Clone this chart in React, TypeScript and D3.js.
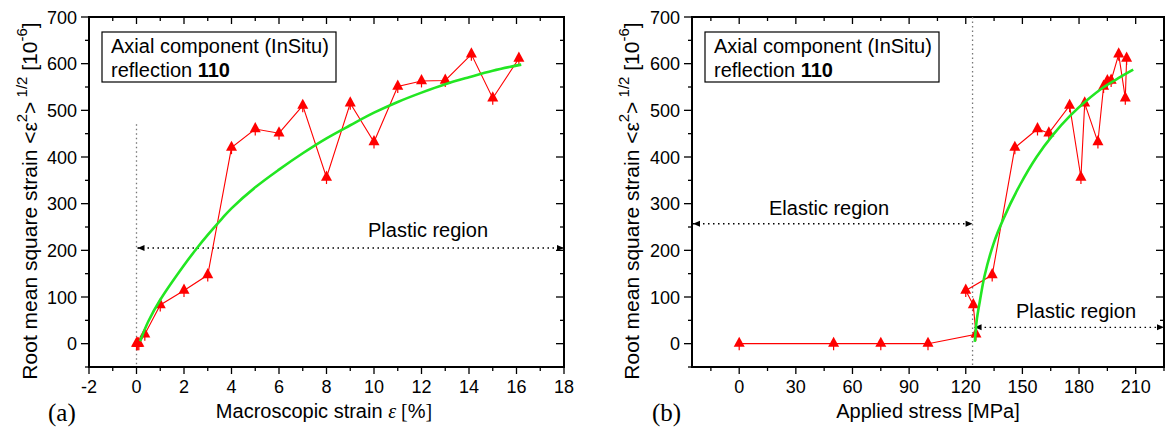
import React from "react";
import * as d3 from "d3";

// Measured series: macroscopic strain [%], applied stress [MPa], rms strain [1e-6]
const strainPct = [0, 0.03, 0.06, 0.1, 0.35, 1, 2, 3, 4, 5, 6, 7, 8, 9, 10, 11, 12, 13, 14.1, 15, 16.1];
const stressMPa = [0, 50, 75, 100, 125.4, 124, 120, 134, 146, 158, 164, 175, 181, 183, 190, 193, 195, 197, 201, 204.5, 205.2];
const rmsStrain = [0, 0, 0, 0, 20, 83, 114, 147, 420, 460, 451, 510, 356, 515, 432, 551, 563, 564, 620, 526, 611];

// Fitted curves
const fitStrainX = [0.15, 0.5, 1, 2, 2.55, 3, 3.6, 4, 5, 6, 7, 8, 9, 10, 11, 12, 13, 14, 15, 16.2];
const fitStrainY = [5, 48, 94, 168, 205, 233, 268, 290, 335, 373, 408, 440, 468, 495, 518, 538, 556, 571, 585, 598];
const fitStressX = [124.8, 125.8, 127.5, 130, 134.7, 140, 148.7, 157.5, 166.3, 175.2, 184, 192.8, 201.7, 208.7];
const fitStressY = [4, 50, 92, 146, 214, 268, 340, 400, 448, 488, 521, 549, 571, 587];

// Axis ticks
const strainTicks = [-2, 0, 2, 4, 6, 8, 10, 12, 14, 16, 18];
const strainMinor = d3.range(-2, 18.01, 1);
const stressTicks = [0, 30, 60, 90, 120, 150, 180, 210];
const stressMinor = d3.range(-15, 225.01, 15);
const rmsTicks = [0, 100, 200, 300, 400, 500, 600, 700];
const rmsMinor = d3.range(-50, 700.01, 50);

// Region markers
const plasticLevelA = 205;
const plasticStartStrain = 0;
const plasticGuideTopA = 470;
const yieldStress = 123.6;
const elasticLevelB = 257;
const plasticLevelB = 35;

const TOP = 17;
const BOTTOM = 367;
const SANS = "'Liberation Sans', Arial, sans-serif";
const SERIF = "'Liberation Serif', 'Times New Roman', serif";

type Arrow = { x1: number; x2: number; y: number; leftHead: boolean; rightHead: boolean };

function ArrowHead({ x, y, dir }: { x: number; y: number; dir: 1 | -1 }) {
  const len = 7;
  const half = 3;
  return (
    <path
      d={`M${x},${y} L${x - dir * len},${y - half} L${x - dir * len},${y + half} Z`}
      fill="#000"
    />
  );
}

function Triangle({ x, y }: { x: number; y: number }) {
  return (
    <g>
      <line x1={x} x2={x} y1={y - 2} y2={y + 6.5} stroke="#ff0000" strokeWidth={1.2} />
      <path d={`M${x},${y - 7} L${x + 5.5},${y + 3.2} L${x - 5.5},${y + 3.2} Z`} fill="#ff0000" />
    </g>
  );
}

function Panel(props: {
  left: number;
  right: number;
  xDomain: [number, number];
  xTicks: number[];
  xMinor: number[];
  xs: number[];
  fitX: number[];
  fitY: number[];
  xTitle: React.ReactNode;
  letter: string;
  letterX: number;
  titleX: number;
  yTitleX: number;
  children?: (x: d3.ScaleLinear<number, number>, y: d3.ScaleLinear<number, number>) => React.ReactNode;
}) {
  const { left, right, xDomain, xTicks, xMinor, xs, fitX, fitY } = props;
  const x = d3.scaleLinear().domain(xDomain).range([left, right]);
  const y = d3.scaleLinear().domain([-50, 700]).range([BOTTOM, TOP]);

  const pts: [number, number][] = xs.map((v, i) => [x(v), y(rmsStrain[i])]);
  const dataLine = d3.line()(pts) || "";
  const fitPts: [number, number][] = fitX.map((v, i) => [x(v), y(fitY[i])]);
  const fitLine = d3.line().curve(d3.curveCatmullRom.alpha(0.5))(fitPts) || "";

  const majorSet = new Set(xTicks);
  const yMajorSet = new Set(rmsTicks);

  return (
    <g>
      {/* bottom ticks (outward) and top mirror ticks (inward) */}
      {xMinor.map((t) => {
        const len = majorSet.has(t) ? 7 : 4;
        return (
          <g key={"xt" + t}>
            <line x1={x(t)} x2={x(t)} y1={BOTTOM} y2={BOTTOM + len} stroke="#000" strokeWidth={1.3} />
            <line x1={x(t)} x2={x(t)} y1={TOP} y2={TOP + len} stroke="#000" strokeWidth={1.3} />
          </g>
        );
      })}
      {rmsMinor.map((t) => {
        const len = yMajorSet.has(t) ? 8 : 4;
        return (
          <g key={"yt" + t}>
            <line x1={left - len} x2={left} y1={y(t)} y2={y(t)} stroke="#000" strokeWidth={1.3} />
            <line x1={right - len} x2={right} y1={y(t)} y2={y(t)} stroke="#000" strokeWidth={1.3} />
          </g>
        );
      })}
      <rect x={left} y={TOP} width={right - left} height={BOTTOM - TOP} fill="none" stroke="#000" strokeWidth={2} />

      {/* tick labels */}
      {xTicks.map((t) => (
        <text key={"xl" + t} x={x(t)} y={BOTTOM + 26} textAnchor="middle" fontFamily={SANS} fontSize={18}>
          {t}
        </text>
      ))}
      {rmsTicks.map((t) => (
        <text key={"yl" + t} x={left - 12} y={y(t) + 6.5} textAnchor="end" fontFamily={SANS} fontSize={18}>
          {t}
        </text>
      ))}

      {/* axis titles */}
      <text x={props.titleX} y={418} textAnchor="middle" fontFamily={SANS} fontSize={20}>
        {props.xTitle}
      </text>
      <text
        transform={`translate(${props.yTitleX},${201}) rotate(-90)`}
        textAnchor="middle"
        fontFamily={SANS}
        fontSize={21}
      >
        Root mean square strain &lt;ε
        <tspan dy={-10} fontSize={15}>2</tspan>
        <tspan dy={10}>&gt;</tspan>
        <tspan dy={-10} fontSize={15}> 1/2</tspan>
        <tspan dy={10}> [10</tspan>
        <tspan dy={-10} fontSize={15}>-6</tspan>
        <tspan dy={10}>]</tspan>
      </text>
      <text x={props.letterX} y={421} fontFamily={SERIF} fontSize={25}>
        {props.letter}
      </text>

      {/* info box */}
      <rect x={left + 13} y={32} width={234} height={50} fill="#fff" stroke="#000" strokeWidth={1.2} />
      <text x={left + 22} y={53} fontFamily={SANS} fontSize={20}>
        Axial component (InSitu)
      </text>
      <text x={left + 22} y={77} fontFamily={SANS} fontSize={20}>
        reflection <tspan fontWeight="bold">110</tspan>
      </text>

      {props.children && props.children(x, y)}

      {/* measured data */}
      <path d={dataLine} fill="none" stroke="#ff0000" strokeWidth={1.1} />
      {pts.map(([px, py], i) => (
        <Triangle key={"m" + i} x={px} y={py} />
      ))}

      {/* fit */}
      <path d={fitLine} fill="none" stroke="#22e622" strokeWidth={2.6} />
    </g>
  );
}

function DottedArrow({ a }: { a: Arrow }) {
  return (
    <g>
      <line x1={a.x1} x2={a.x2} y1={a.y} y2={a.y} stroke="#000" strokeWidth={1.3} strokeDasharray="1.5,3.5" />
      {a.leftHead && <ArrowHead x={a.x1} y={a.y} dir={-1} />}
      {a.rightHead && <ArrowHead x={a.x2} y={a.y} dir={1} />}
    </g>
  );
}

export default function App() {
  const leftA = 89;
  const rightA = 564;
  const leftB = 692;
  const rightB = 1164;

  return (
    <svg width={1165} height={434} style={{ position: "absolute", left: 0, top: 0, background: "#fff" }}>
      <rect width={1165} height={434} fill="#fff" />
      <Panel
        left={leftA}
        right={rightA}
        xDomain={[-2, 18]}
        xTicks={strainTicks}
        xMinor={strainMinor}
        xs={strainPct}
        fitX={fitStrainX}
        fitY={fitStrainY}
        letter="(a)"
        letterX={48}
        titleX={324}
        yTitleX={37}
        xTitle={
          <>
            Macroscopic strain{" "}
            <tspan fontFamily={SERIF} fontStyle="italic">
              ε
            </tspan>
            <tspan fontFamily={SERIF}> [</tspan>%<tspan fontFamily={SERIF}>]</tspan>
          </>
        }
      >
        {(x, y) => (
          <g>
            <line
              x1={x(plasticStartStrain)}
              x2={x(plasticStartStrain)}
              y1={y(plasticGuideTopA)}
              y2={BOTTOM}
              stroke="#777"
              strokeWidth={1.3}
              strokeDasharray="1.5,3"
            />
            <DottedArrow
              a={{ x1: x(plasticStartStrain) + 1, x2: rightA, y: y(plasticLevelA), leftHead: true, rightHead: true }}
            />
            <text x={428} y={237} textAnchor="middle" fontFamily={SANS} fontSize={20}>
              Plastic region
            </text>
          </g>
        )}
      </Panel>
      <Panel
        left={leftB}
        right={rightB}
        xDomain={[-25, 225]}
        xTicks={stressTicks}
        xMinor={stressMinor}
        xs={stressMPa}
        fitX={fitStressX}
        fitY={fitStressY}
        letter="(b)"
        letterX={652}
        titleX={928}
        yTitleX={639}
        xTitle="Applied stress [MPa]"
      >
        {(x, y) => (
          <g>
            <line
              x1={x(yieldStress)}
              x2={x(yieldStress)}
              y1={TOP}
              y2={BOTTOM}
              stroke="#777"
              strokeWidth={1.3}
              strokeDasharray="1.5,3"
            />
            <DottedArrow a={{ x1: leftB + 1, x2: x(yieldStress), y: y(elasticLevelB), leftHead: true, rightHead: true }} />
            <text x={829} y={215} textAnchor="middle" fontFamily={SANS} fontSize={20}>
              Elastic region
            </text>
            <DottedArrow a={{ x1: x(yieldStress) + 2, x2: rightB, y: y(plasticLevelB), leftHead: true, rightHead: true }} />
            <text x={1076} y={318} textAnchor="middle" fontFamily={SANS} fontSize={20}>
              Plastic region
            </text>
          </g>
        )}
      </Panel>
    </svg>
  );
}
